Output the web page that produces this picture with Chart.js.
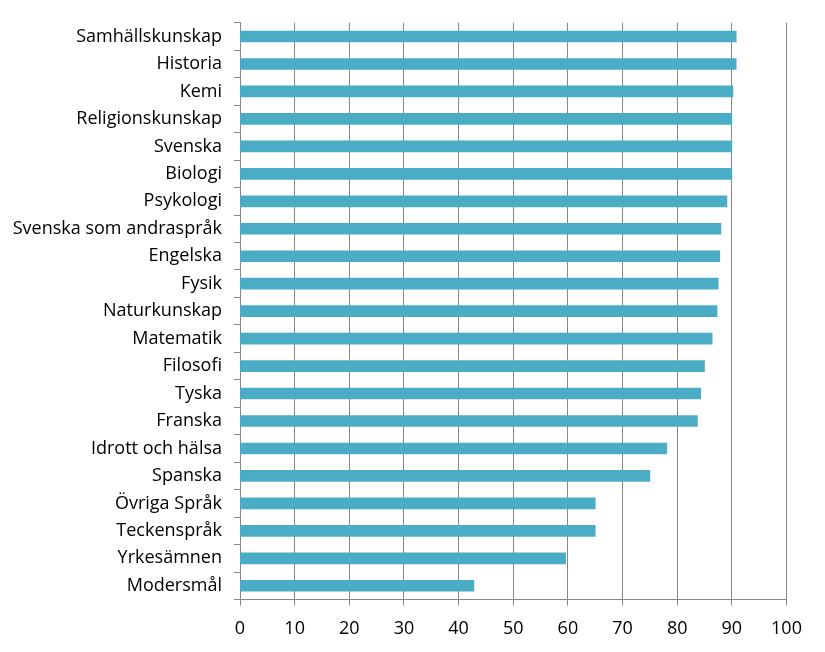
<!DOCTYPE html>
<html>
<head>
<meta charset="utf-8">
<script src="https://cdn.jsdelivr.net/npm/chart.js@4.4.1/dist/chart.umd.min.js"></script>
<style>
html,body{margin:0;padding:0;background:#fff;}
#wrap{width:825px;height:652px;position:relative;}
</style>
</head>
<body>
<div id="wrap"><canvas id="c" width="825" height="652"></canvas></div>
<script>
const categories = ["Samhällskunskap","Historia","Kemi","Religionskunskap","Svenska","Biologi","Psykologi","Svenska som andraspråk","Engelska","Fysik","Naturkunskap","Matematik","Filosofi","Tyska","Franska","Idrott och hälsa","Spanska","Övriga Språk","Teckenspråk","Yrkesämnen","Modersmål"];
const values = [90.8,90.8,90.2,90.0,90.0,90.0,89.1,88.0,87.8,87.5,87.3,86.4,85.0,84.3,83.7,78.1,75.0,65.0,65.0,59.6,42.8];
const xMin = 0, xMax = 100, xStep = 10;

const FONT = "'Open Sans'";
const gridColor = "#868686";

new Chart(document.getElementById('c'), {
  type: 'bar',
  data: {
    labels: categories,
    datasets: [{
      data: values,
      backgroundColor: '#4BACC6',
      borderWidth: 0,
      barThickness: 11
    }]
  },
  options: {
    indexAxis: 'y',
    responsive: false,
    animation: false,
    devicePixelRatio: 1,
    layout: { padding: { top: 22.5, right: 38.5, left: 0, bottom: 0 } },
    plugins: { legend: { display: false }, tooltip: { enabled: false } },
    scales: {
      x: {
        min: xMin, max: xMax,
        ticks: { stepSize: xStep, color: '#000', font: { family: FONT, size: 18 }, padding: 13 },
        grid: { color: gridColor, lineWidth: 1, tickLength: 6, tickColor: gridColor },
        border: { color: gridColor, width: 1 },
        afterFit: (s) => { s.height = 52.5; }
      },
      y: {
        ticks: { color: '#000', font: { family: FONT, size: 18 }, padding: 12 },
        grid: { offset: true, drawOnChartArea: false, drawTicks: true, tickLength: 6, color: gridColor },
        border: { color: gridColor, width: 1 },
        afterFit: (s) => { s.width = 240; }
      }
    }
  }
});
</script>
</body>
</html>
